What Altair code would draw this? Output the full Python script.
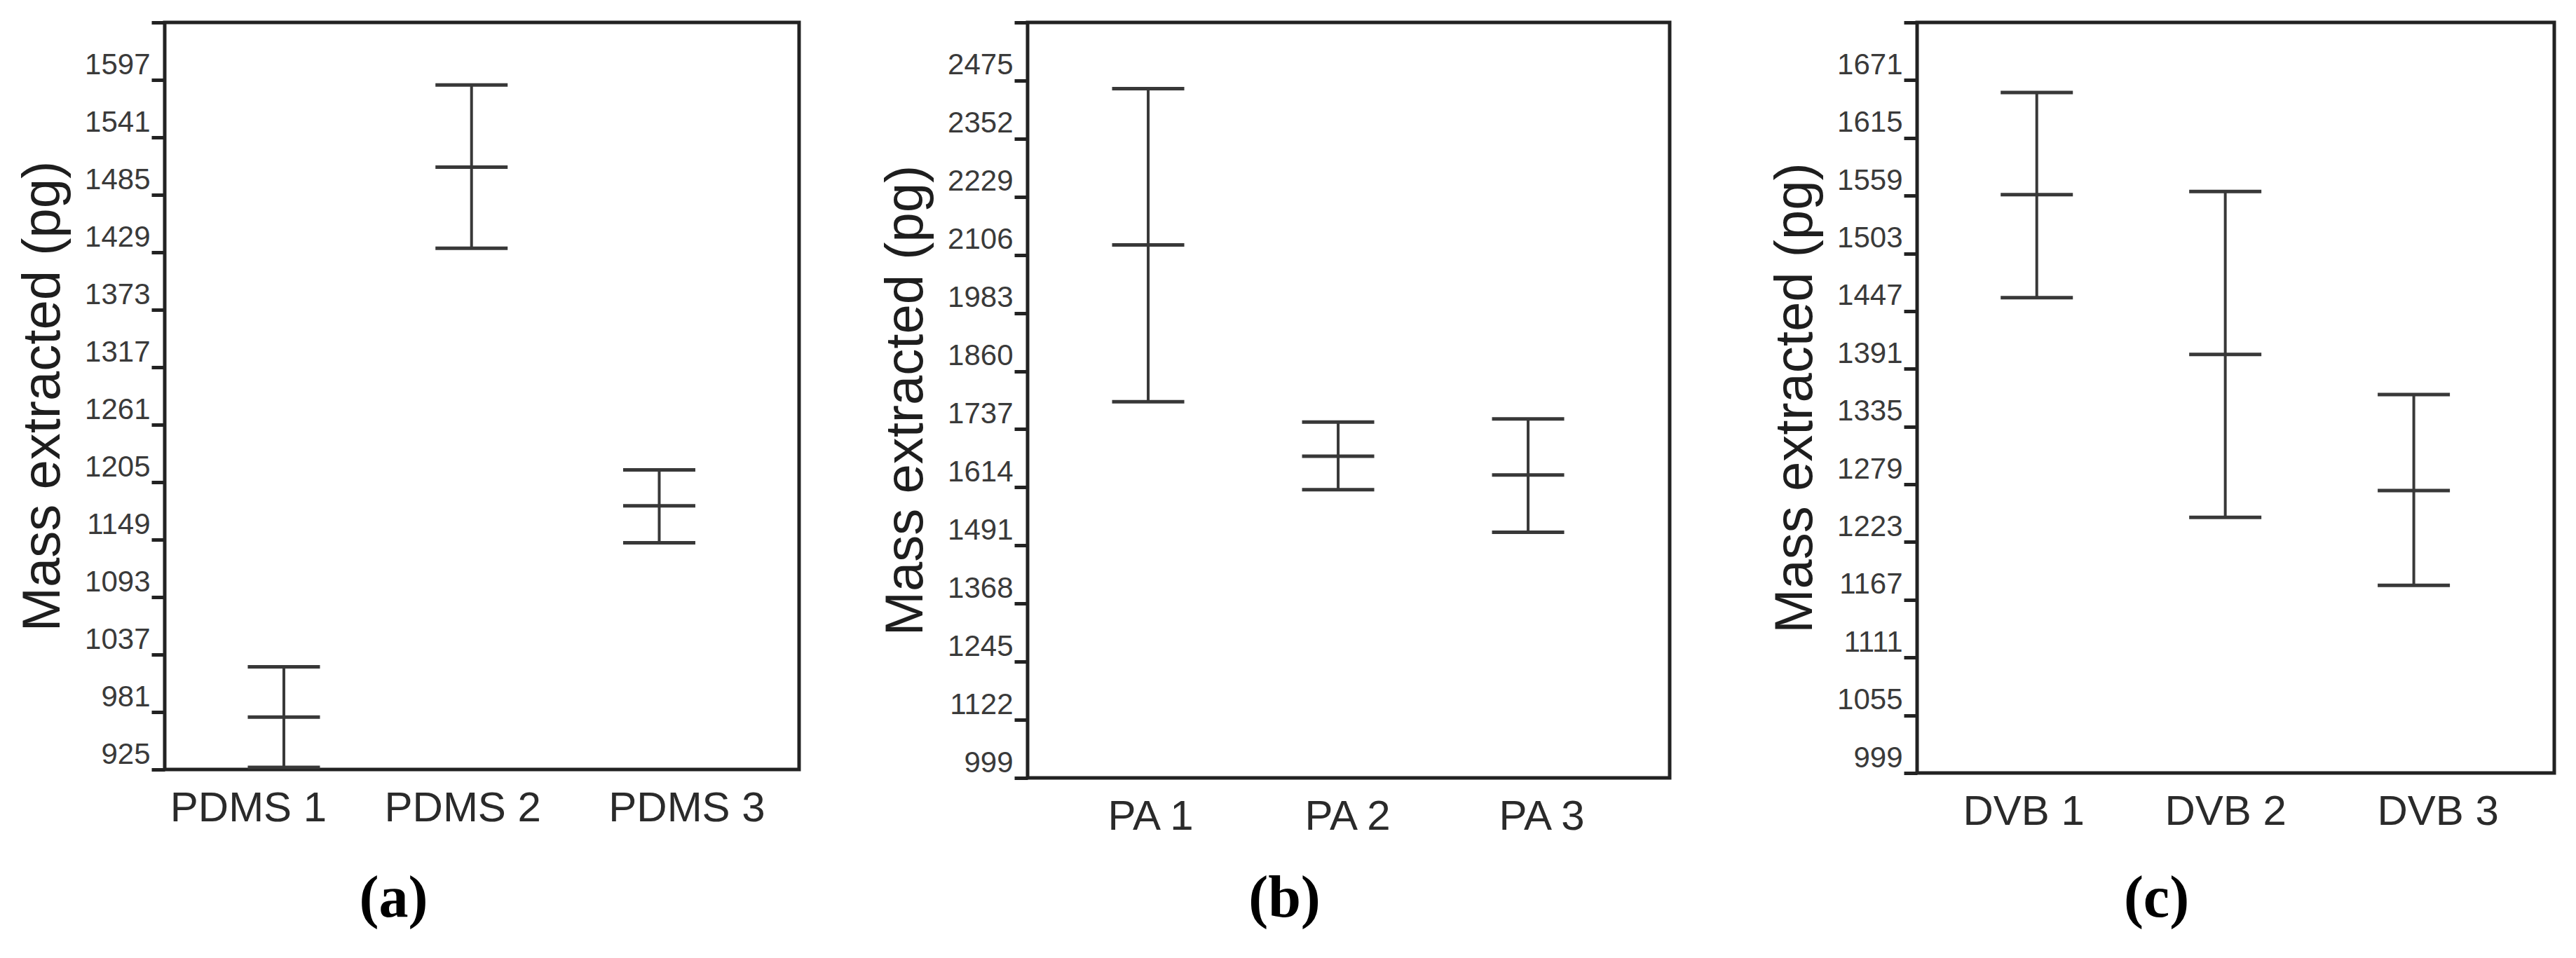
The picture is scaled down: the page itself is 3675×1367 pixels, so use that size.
import altair as alt
import pandas as pd

# ---------------- data ----------------
pdms_cats = ["PDMS 1", "PDMS 2", "PDMS 3"]
pdms_mean = [976, 1512, 1182]
pdms_low = [927, 1433, 1146]
pdms_high = [1025, 1592, 1217]
pdms_ticks = [925, 981, 1037, 1093, 1149, 1205, 1261, 1317, 1373, 1429, 1485, 1541, 1597, 1653]

pa_cats = ["PA 1", "PA 2", "PA 3"]
pa_mean = [2127, 1680, 1640]
pa_low = [1795, 1609, 1519]
pa_high = [2458, 1752, 1759]
pa_ticks = [999, 1122, 1245, 1368, 1491, 1614, 1737, 1860, 1983, 2106, 2229, 2352, 2475, 2598]

dvb_cats = ["DVB 1", "DVB 2", "DVB 3"]
dvb_mean = [1560, 1405, 1273]
dvb_low = [1460, 1247, 1181]
dvb_high = [1659, 1563, 1366]
dvb_ticks = [999, 1055, 1111, 1167, 1223, 1279, 1335, 1391, 1447, 1503, 1559, 1615, 1671, 1727]

Y_TITLE = "Mass extracted (pg)"
LINE = "#383838"
FRAME = "#222222"


def panel(cats, mean, low, high, ticks, width, height, lab_off, caption,
          cap_x, cap_y):
    df = pd.DataFrame({"cat": cats, "mean": mean, "low": low, "high": high})

    x_axis = alt.Axis(
        title=caption, ticks=False, domain=False, grid=False, labelAngle=0,
        labelFont="Liberation Sans", labelFontSize=60, labelColor="#2a2a2a",
        labelPadding=26, labelLimit=0,
        labelOffset={"condition": [
            {"test": f"datum.value === '{cats[0]}'", "value": lab_off[0]},
            {"test": f"datum.value === '{cats[2]}'", "value": lab_off[2]},
        ], "value": lab_off[1]},
        titleFont="Liberation Serif", titleFontSize=84, titleFontWeight="bold",
        titleColor="#000000", titleX=cap_x, titleY=cap_y,
        titleAlign="center", titleBaseline="middle", titleAnchor="middle",
    )
    x = alt.X("cat:N", sort=cats,
              scale=alt.Scale(type="point", padding=0.69, align=0.46),
              axis=x_axis)

    top = ticks[-1]
    y_axis = alt.Axis(
        title=Y_TITLE, values=ticks, grid=False, domain=False,
        tickSize=19, tickWidth=5, tickColor=FRAME,
        labelFont="Liberation Sans", labelColor="#3a3a3a",
        labelExpr=f"datum.value >= {top} ? '' : datum.label",
        labelFontSize={"condition": {"test": f"datum.value >= {top}", "value": 0},
                       "value": 42},
        labelPadding=2, labelBaseline="alphabetic", labelOffset=-9,
        labelOverlap=False, format="d",
        titleFont="Liberation Sans", titleFontSize=76, titleFontWeight="normal",
        titleColor="#1e1e1e", titlePadding=20,
    )
    yscale = alt.Scale(domain=[ticks[0], top], nice=False, zero=False)

    base = alt.Chart(df)
    rule = base.mark_rule(color=LINE, strokeWidth=4).encode(
        x=x,
        y=alt.Y("low:Q", scale=yscale, axis=y_axis, title=Y_TITLE),
        y2="high:Q",
    )
    caps = base.transform_fold(["low", "mean", "high"], as_=["kind", "value"]).mark_tick(
        color=LINE, size=103, thickness=5, opacity=1
    ).encode(
        x=x,
        y=alt.Y("value:Q", scale=yscale, axis=y_axis, title=Y_TITLE),
    )
    return alt.layer(rule, caps).properties(width=width, height=height)


pa = panel(pdms_cats, pdms_mean, pdms_low, pdms_high, pdms_ticks, 905, 1066,
           [-51, -13, 39], "(a)", 326, 184)
pb = panel(pa_cats, pa_mean, pa_low, pa_high, pa_ticks, 916, 1078,
           [3, 13, 19], "(b)", 366, 172)
pc = panel(dvb_cats, dvb_mean, dvb_low, dvb_high, dvb_ticks, 909, 1071,
           [-19, 0, 34], "(c)", 341, 179)

chart = alt.hconcat(
    alt.hconcat(pa, pb, spacing=109),
    pc,
    spacing=136,
).properties(
    padding={"left": 13, "top": 12, "right": 5, "bottom": 5},
    background="white",
).configure_view(
    stroke=FRAME, strokeWidth=5, fill="white"
)

chart.save("out.html", embed_options={"renderer": "svg", "actions": False})
